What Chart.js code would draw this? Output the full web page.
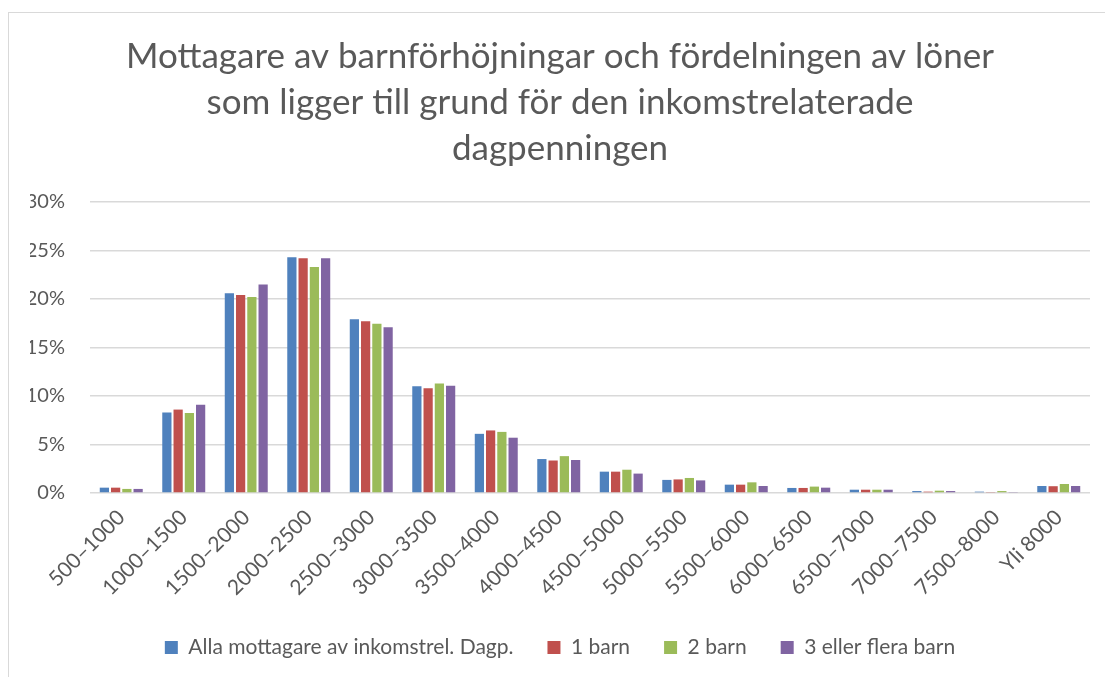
<!DOCTYPE html>
<html lang="sv">
<head>
    <meta charset="UTF-8">
    <title>Mottagare av barnförhöjningar</title>
    <script src="https://cdn.jsdelivr.net/npm/chart.js"></script>
    <style>
        body { margin: 0; background: #fff; }
        #frame { position: absolute; left: 8px; top: 12px; width: 1110px; height: 680px; border: 1px solid #d9d9d9; }
        #wrap { position: absolute; left: 0; top: 0; width: 1105px; height: 677px; }
    </style>
</head>
<body>
    <div id="frame"></div>
    <div id="wrap"><canvas id="chart"></canvas></div>

    <script>
        // income brackets (SEK / month)
        const categories = ['500–1000', '1000–1500', '1500–2000', '2000–2500', '2500–3000', '3000–3500',
            '3500–4000', '4000–4500', '4500–5000', '5000–5500', '5500–6000', '6000–6500',
            '6500–7000', '7000–7500', '7500–8000', 'Yli 8000'];

        // share of recipients, %
        const alla   = [0.55, 8.3, 20.6, 24.3, 17.9, 11.0, 6.1, 3.5, 2.2, 1.35, 0.86, 0.52, 0.34, 0.2, 0.14, 0.72];
        const barn1  = [0.55, 8.6, 20.4, 24.2, 17.7, 10.8, 6.45, 3.35, 2.2, 1.4, 0.86, 0.52, 0.34, 0.14, 0.1, 0.7];
        const barn2  = [0.42, 8.25, 20.2, 23.3, 17.45, 11.3, 6.3, 3.8, 2.4, 1.55, 1.1, 0.66, 0.34, 0.24, 0.2, 0.93];
        const barn3  = [0.42, 9.1, 21.5, 24.2, 17.1, 11.05, 5.7, 3.4, 2.0, 1.3, 0.72, 0.55, 0.34, 0.2, 0.1, 0.72];

        const seriesNames = ['Alla mottagare av inkomstrel. Dagp.', '1 barn', '2 barn', '3 eller flera barn'];
        const yTicks = [0, 5, 10, 15, 20, 25, 30];

        const titleLines = ['Mottagare av barnförhöjningar och fördelningen av löner',
            'som ligger till grund för den inkomstrelaterade',
            'dagpenningen'];

        const colors = ['#4f81bd', '#c0504d', '#9bbb59', '#8064a2'];
        const textColor = '#595959';
        const font = 'Lato, "Open Sans", sans-serif';

        let ctx = document.getElementById('chart').getContext('2d');
        new Chart(ctx, {
            type: 'bar',
            data: {
                labels: categories,
                datasets: [alla, barn1, barn2, barn3].map((d, i) => ({
                    label: seriesNames[i],
                    data: d,
                    backgroundColor: colors[i],
                    borderWidth: 0,
                    barPercentage: 0.82,
                    categoryPercentage: 0.72
                }))
            },
            options: {
                responsive: true,
                maintainAspectRatio: false,
                animation: false,
                layout: { padding: { left: 30, right: 15, top: 34, bottom: 9 } },
                plugins: {
                    title: {
                        display: true,
                        text: titleLines,
                        color: textColor,
                        font: { family: font, size: 35, weight: 'normal', lineHeight: 46 / 35 },
                        padding: { top: 0, bottom: 30 }
                    },
                    legend: {
                        position: 'bottom',
                        labels: {
                            color: textColor,
                            font: { family: font, size: 21 },
                            boxWidth: 13,
                            boxHeight: 13,
                            padding: 34
                        }
                    },
                    tooltip: { enabled: false }
                },
                scales: {
                    x: {
                        afterFit: s => { s.height = 110; },
                        grid: { display: false },
                        border: { display: false },
                        ticks: {
                            color: textColor,
                            font: { family: font, size: 21 },
                            maxRotation: 45,
                            minRotation: 45,
                            padding: 4
                        }
                    },
                    y: {
                        min: 0,
                        max: 30,
                        afterFit: s => { s.width = 60; },
                        afterBuildTicks: s => { s.ticks = yTicks.map(v => ({ value: v })); },
                        grid: { color: '#d9d9d9', lineWidth: 1.5, drawTicks: false },
                        border: { display: false },
                        ticks: {
                            color: textColor,
                            font: { family: font, size: 20 },
                            padding: 25,
                            callback: v => v + '%'
                        }
                    }
                }
            }
        });
    </script>
</body>
</html>
